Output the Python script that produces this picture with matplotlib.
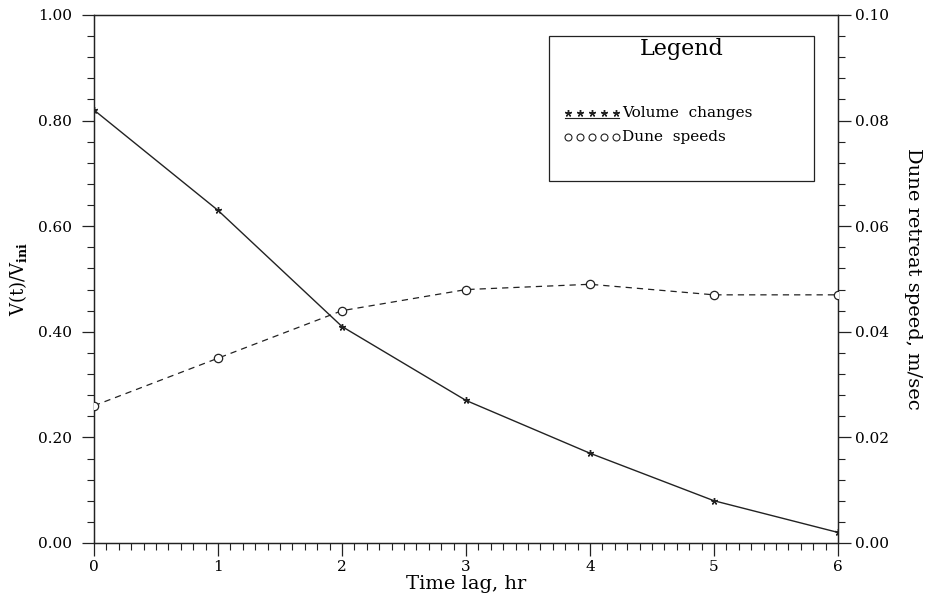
import matplotlib
matplotlib.use("Agg")
import matplotlib.pyplot as plt
from matplotlib.ticker import MultipleLocator, FormatStrFormatter
from matplotlib.patches import Rectangle

# ---- data ----
time_lag = [0, 1, 2, 3, 4, 5, 6]
volume_ratio = [0.82, 0.63, 0.41, 0.27, 0.17, 0.08, 0.02]
dune_speed = [0.026, 0.035, 0.044, 0.048, 0.049, 0.047, 0.047]
xticks = [0, 1, 2, 3, 4, 5, 6]
left_ticks = [0.0, 0.2, 0.4, 0.6, 0.8, 1.0]
right_ticks = [0.0, 0.02, 0.04, 0.06, 0.08, 0.10]

plt.rcParams['font.family'] = ['DejaVu Serif']
plt.rcParams['mathtext.fontset'] = 'dejavuserif'

fig = plt.figure(figsize=(9.33, 5.99), dpi=100)
ax = fig.add_axes([94/933, 1-543/599, (838-94)/933, (543-15)/599])
ax2 = ax.twinx()

lc = '#222222'
ax.plot(time_lag, volume_ratio, color=lc, lw=1.0, marker=(5, 2, 0), ms=5, mew=1.0, zorder=3)
ax2.plot(time_lag, dune_speed, color=lc, lw=0.9, ls=(0, (5, 4)), marker='o', ms=6,
         mfc='white', mec=lc, mew=0.9, zorder=3)

ax.set_xlim(0, 6)
ax.set_ylim(0, 1.0)
ax2.set_ylim(0, 0.10)

ax.set_xticks(xticks)
ax.xaxis.set_minor_locator(MultipleLocator(0.1))
ax.set_yticks(left_ticks)
ax.yaxis.set_minor_locator(MultipleLocator(0.04))
ax.yaxis.set_major_formatter(FormatStrFormatter('%.2f'))
ax2.set_yticks(right_ticks)
ax2.yaxis.set_minor_locator(MultipleLocator(0.004))
ax2.yaxis.set_major_formatter(FormatStrFormatter('%.2f'))

for a in (ax, ax2):
    for s in a.spines.values():
        s.set_linewidth(0.9)
        s.set_color(lc)
ax.tick_params(axis='both', which='major', direction='out', length=9, width=0.9,
               labelsize=11, color=lc, right=False, top=False)
ax.tick_params(axis='both', which='minor', direction='out', length=5, width=0.8,
               color=lc, right=False, top=False)
ax.tick_params(axis='y', which='major', pad=7)
ax.tick_params(axis='x', which='major', pad=3)
ax2.tick_params(axis='y', which='major', direction='out', length=9, width=0.9,
                labelsize=11, color=lc, pad=3)
ax2.tick_params(axis='y', which='minor', direction='out', length=5, width=0.8, color=lc)

ax.set_xlabel('Time lag, hr', fontsize=14, labelpad=1)
ax.set_ylabel(r'V(t)/V$_{\mathbf{ini}}$', fontsize=13, labelpad=6)
ax2.set_ylabel('Dune retreat speed, m/sec', fontsize=14, rotation=-90, labelpad=24)

# ---- legend box (manual) ----
x0, x1 = 0.612, 0.968
y0, y1 = 0.686, 0.960
ax.add_patch(Rectangle((x0, y0), x1 - x0, y1 - y0, transform=ax.transAxes,
                       fill=False, ec=lc, lw=0.9, zorder=5))
ax.text((x0 + x1) / 2, 0.935, 'Legend', transform=ax.transAxes, ha='center',
        va='center', fontsize=16)
ax.text(0.710, 0.815, 'Volume  changes', transform=ax.transAxes, ha='left',
        va='center', fontsize=11)
ax.text(0.710, 0.768, 'Dune  speeds', transform=ax.transAxes, ha='left',
        va='center', fontsize=11)
sx = [0.637, 0.653, 0.669, 0.685, 0.701]
ax.plot(sx, [0.815] * 5, transform=ax.transAxes, ls='none', marker=(5, 2, 0),
        ms=5, color=lc, clip_on=False)
ax.plot([0.633, 0.705], [0.804, 0.804], transform=ax.transAxes, color=lc,
        lw=0.8, clip_on=False)
ax.plot(sx, [0.768] * 5, transform=ax.transAxes, ls='none', marker='o', ms=5,
        mfc='white', mec=lc, mew=0.8, clip_on=False)

fig.savefig('out.png', dpi=100)
